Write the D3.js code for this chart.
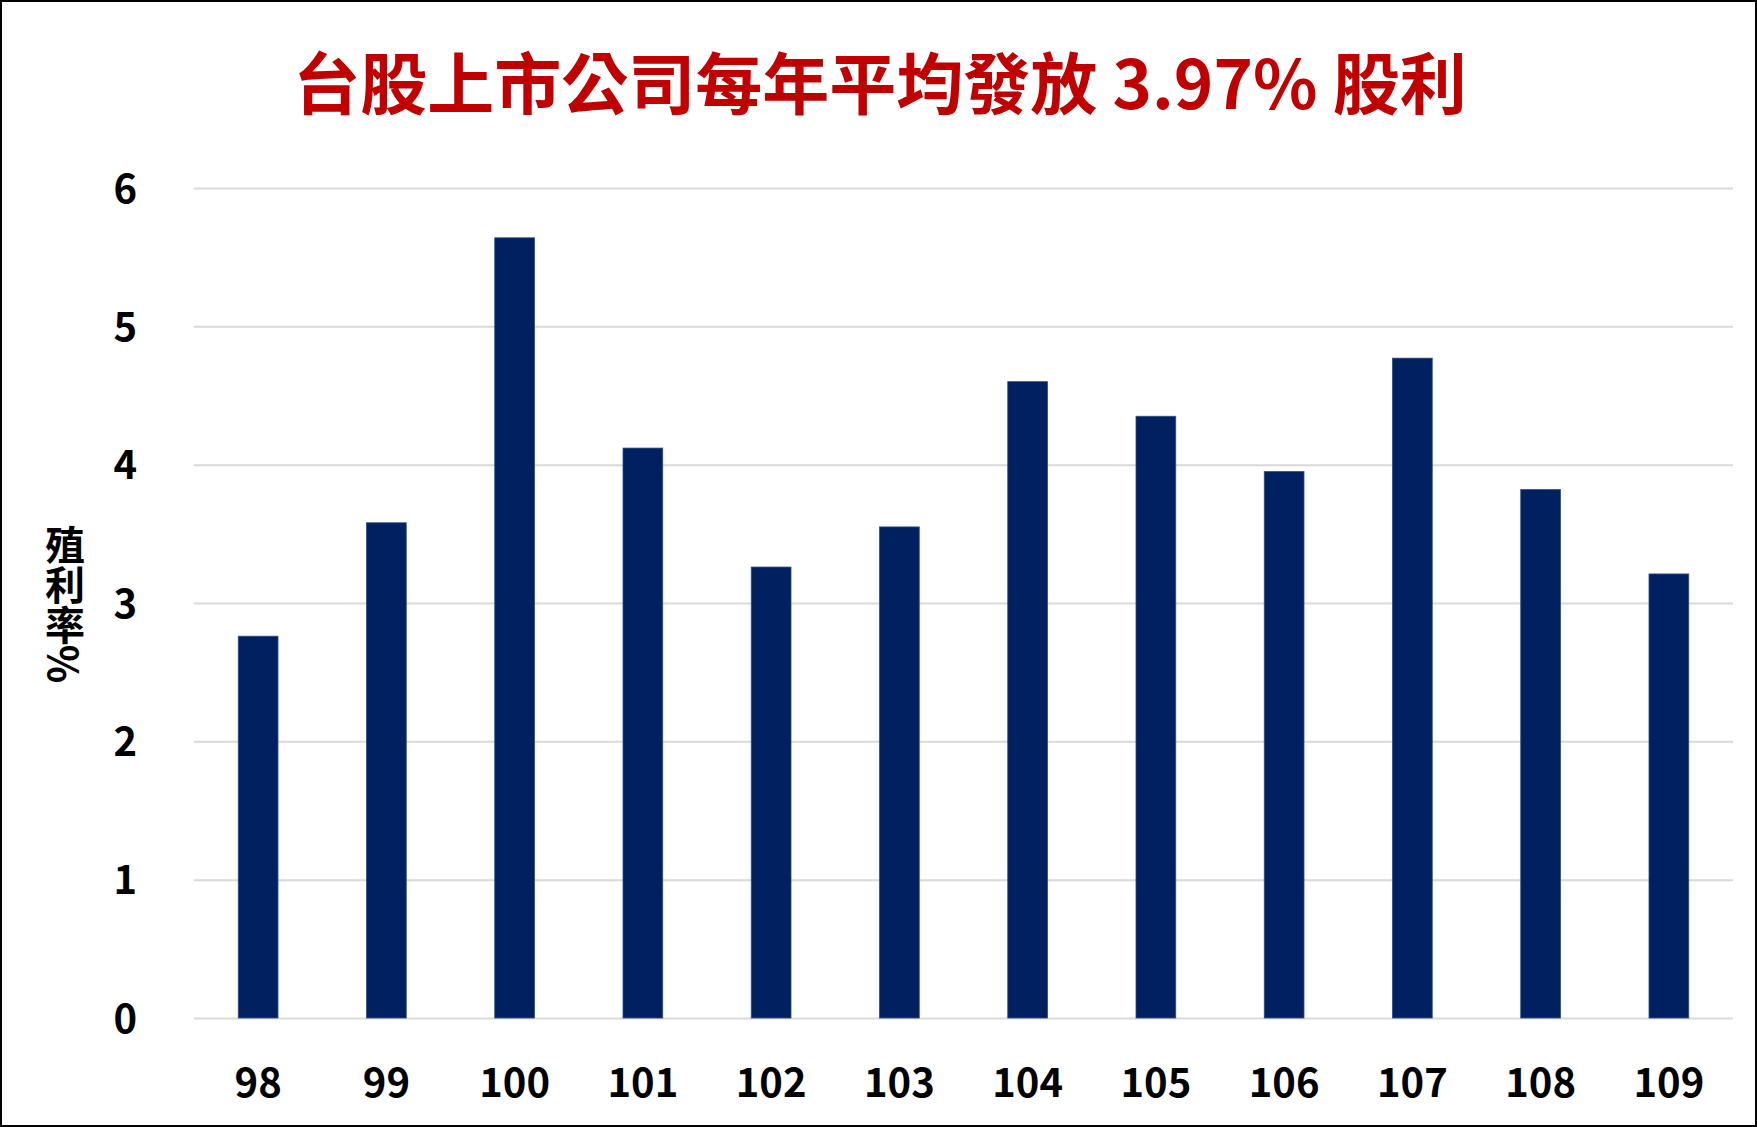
<!DOCTYPE html>
<html>
<head>
<meta charset="utf-8">
<script src="https://cdn.jsdelivr.net/npm/d3@7"></script>
<style>
  body { margin: 0; background: #fff; }
  svg { display: block; font-family: "Noto Sans CJK TC", "Noto Sans", sans-serif; }
</style>
</head>
<body>
<div id="chart"></div>
<script>
// data
const years = ["98", "99", "100", "101", "102", "103", "104", "105", "106", "107", "108", "109"];
const yields = [2.76, 3.58, 5.64, 4.12, 3.26, 3.55, 4.60, 4.35, 3.95, 4.77, 3.82, 3.21];
const yTicks = [0, 1, 2, 3, 4, 5, 6];
const titleText = "台股上市公司每年平均發放 3.97% 股利";
const yTitle = "殖利率%";

const width = 1757, height = 1127;
const margin = { top: 188, right: 24, bottom: 109, left: 194 };

const svg = d3.select("#chart")
  .append("svg")
  .attr("width", width)
  .attr("height", height)
  .attr("viewBox", [0, 0, width, height]);

// outer frame
svg.append("rect")
  .attr("x", 1).attr("y", 1)
  .attr("width", width - 2).attr("height", height - 2)
  .attr("fill", "#fff")
  .attr("stroke", "#000")
  .attr("stroke-width", 2);

// Scales
const x = d3.scaleBand()
  .domain(years)
  .range([margin.left, width - margin.right])
  .paddingInner(0.69)
  .paddingOuter(0.345);

const y = d3.scaleLinear()
  .domain([0, 6])
  .range([height - margin.bottom, margin.top]);

// gridlines + y labels
svg.append("g")
  .attr("transform", `translate(${margin.left},0)`)
  .call(d3.axisLeft(y)
    .tickValues(yTicks)
    .tickFormat(d3.format("d"))
    .tickSize(-(width - margin.left - margin.right))
    .tickPadding(57))
  .call(g => g.select(".domain").remove())
  .call(g => g.selectAll(".tick line")
    .attr("stroke", "#d9d9d9")
    .attr("stroke-width", 2))
  .call(g => g.selectAll(".tick text")
    .attr("fill", "#000")
    .attr("font-size", 40)
    .attr("font-weight", 700)
    .attr("font-family", "Noto Sans CJK TC")
    .attr("dy", "0.35em"));

// x labels
svg.append("g")
  .attr("transform", `translate(0,${height - margin.bottom})`)
  .call(d3.axisBottom(x).tickSize(0))
  .call(g => g.select(".domain").remove())
  .call(g => g.selectAll(".tick text")
    .attr("y", 65)
    .attr("dy", "0.35em")
    .attr("fill", "#000")
    .attr("font-size", 40)
    .attr("font-weight", 700)
    .attr("font-family", "Noto Sans CJK TC"));

// bars
svg.append("g")
  .selectAll("rect")
  .data(years)
  .join("rect")
  .attr("x", d => x(d))
  .attr("width", x.bandwidth())
  .attr("y", (d, i) => y(yields[i]))
  .attr("height", (d, i) => y(0) - y(yields[i]))
  .attr("fill", "#002060")
  .attr("stroke", "#2f4d86")
  .attr("stroke-width", 0.8);

// title
svg.append("text")
  .attr("x", 880)
  .attr("y", 79)
  .attr("text-anchor", "middle")
  .attr("dominant-baseline", "central")
  .attr("fill", "#c00000")
  .attr("font-size", 67)
  .attr("font-weight", 700)
  .text(titleText);

// y axis title, vertical writing
svg.append("text")
  .attr("x", 65)
  .attr("y", 604)
  .attr("text-anchor", "middle")
  .style("writing-mode", "vertical-rl")
  .style("text-orientation", "mixed")
  .attr("fill", "#000")
  .attr("font-size", 40)
  .attr("font-weight", 700)
  .text(yTitle);
</script>
</body>
</html>
